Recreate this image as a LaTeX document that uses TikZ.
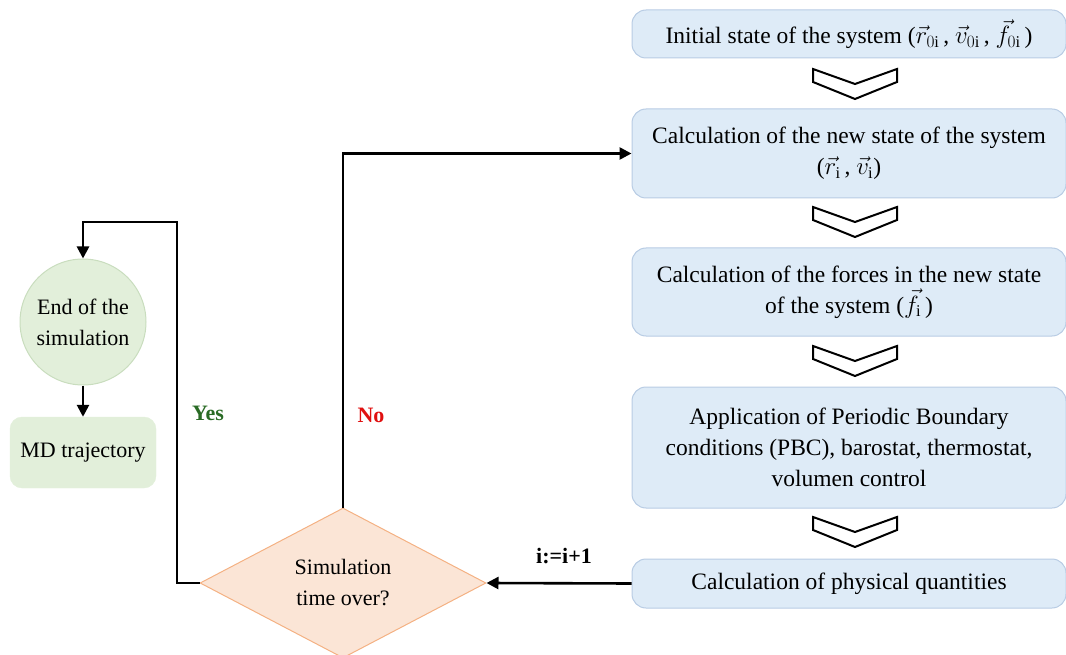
\documentclass[tikz,border=0pt]{standalone}
\usepackage{fontspec}
\setmainfont{Liberation Serif}
\usetikzlibrary{arrows.meta,shapes.geometric}
\definecolor{boxfill}{HTML}{DEEBF7}
\definecolor{boxline}{HTML}{B8CCE4}
\definecolor{grfill}{HTML}{E2EFDA}
\definecolor{grline}{HTML}{C9DDBE}
\definecolor{pkfill}{HTML}{FBE5D6}
\definecolor{pkline}{HTML}{F4B183}
\definecolor{yesgreen}{HTML}{2A6B25}
\definecolor{nored}{HTML}{E01010}
\tikzset{
  flowbox/.style={draw=boxline, fill=boxfill, line width=1pt, rounded corners=14pt,
    minimum width=434pt, align=center, inner sep=0pt, font=\fontsize{23.5}{31}\selectfont},
  arr/.style={line width=2.6pt, -{Triangle[length=12pt,width=12pt]}},
  lbl/.style={font=\fontsize{22}{26}\selectfont\bfseries},
  pics/chev/.style={code={
    \draw[line width=2pt, fill=white, line join=miter]
      (-42,0) -- (0,15) -- (42,0) -- (42,13) -- (0,30) -- (-42,13) -- cycle;}}
}
\begin{document}
\begin{tikzpicture}[x=1pt,y=-1pt]
\useasboundingbox (0,0) rectangle (1066,655);

% right column
\node[flowbox, minimum height=48pt] (b1) at (849,34)
  {Initial state of the system ($\vec r_{0\mathrm{i}}$\,, $\vec v_{0\mathrm{i}}$\,, $\vec f_{0\mathrm{i}}$\,)};
\node[flowbox, minimum height=89pt] (b2) at (849,153.5)
  {Calculation of the new state of the system\\($\vec r_{\mathrm{i}}$\,, $\vec v_{\mathrm{i}}$)};
\node[flowbox, minimum height=88pt] (b3) at (849,292)
  {Calculation of the forces in the new state\\of the system ($\vec f_{\mathrm{i}}$\,)};
\node[flowbox, minimum height=121pt] (b4) at (849,447.5)
  {Application of Periodic Boundary\\conditions (PBC), barostat, thermostat,\\volumen control};
\node[flowbox, minimum height=49pt] (b5) at (849,583.5)
  {Calculation of physical quantities};

\pic at (855,69) {chev};
\pic at (855,207) {chev};
\pic at (855,346) {chev};
\pic at (855,517) {chev};

% decision
\node[diamond, draw=pkline, fill=pkfill, line width=1pt, aspect=1.9,
      minimum width=286pt, minimum height=150pt, inner sep=0pt, align=center,
      font=\fontsize{22}{31}\selectfont] (dia) at (343,583) {Simulation\\time over?};

% left column
\node[circle, draw=grline, fill=grfill, line width=1pt, minimum size=126pt,
      inner sep=0pt, align=center, font=\fontsize{22}{31}\selectfont] (endc) at (83,322)
  {End of the\\simulation};
\node[draw=grfill, fill=grfill, rounded corners=12pt, minimum width=146pt,
      minimum height=71pt, inner sep=0pt, font=\fontsize{22}{26}\selectfont] (md) at (83,452.5)
  {MD trajectory};

% connectors
\coordinate (yc) at (177,222);
\draw[arr] (dia.north) |- (b2.west);
\draw[arr] (b5.west) -- (dia.east);
\draw[arr] (dia.west) -| (yc) -| (endc.north);
\draw[arr] (endc.south) -- (md.north);

% labels
\node[lbl, text=yesgreen] (yes) at (208,413) {Yes};
\node[lbl, text=nored] (no) at (371,415) {No};
\node[lbl] (inc) at (564,556) {i:=i+1};
\end{tikzpicture}
\end{document}
